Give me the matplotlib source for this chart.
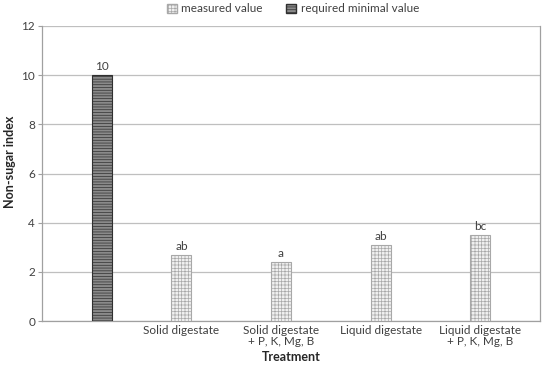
import numpy as np
import matplotlib.pyplot as plt
from matplotlib.patches import Patch

plt.rcParams['font.family'] = ['Lato', 'DejaVu Sans']
plt.rcParams['hatch.linewidth'] = 0.5

# categories (first one holds only the required minimal value)
categories = ["", "Solid digestate", "Solid digestate\n+ P, K, Mg, B",
              "Liquid digestate", "Liquid digestate\n+ P, K, Mg, B"]
measured = [np.nan, 2.7, 2.4, 3.1, 3.5]
measured_labels = ["", "ab", "a", "ab", "bc"]
required = [10, np.nan, np.nan, np.nan, np.nan]
required_labels = ["10", "", "", "", ""]
yticks = [0, 2, 4, 6, 8, 10, 12]

fig = plt.figure(figsize=(5.5, 3.69), dpi=100)
ax = fig.add_axes([42 / 550, 1 - 321 / 369, 498 / 550, 295 / 369])

centers = np.arange(len(categories)) + 0.5
w = 0.2
grey = '#404040'
fs = 8.5

ax.bar(centers - w / 2, measured, w, color='#f0f0f0', edgecolor='#a8a8a8',
       hatch='+++++', linewidth=0.8, zorder=3)
ax.bar(centers + w / 2, required, w, color='#8a8a8a', edgecolor='#303030',
       hatch='------', linewidth=0.8, zorder=3)

for x, v, t in zip(centers - w / 2, measured, measured_labels):
    if t:
        ax.text(x, v + 0.12, t, ha='center', va='bottom', fontsize=fs, color=grey)
for x, v, t in zip(centers + w / 2, required, required_labels):
    if t:
        ax.text(x, v + 0.12, t, ha='center', va='bottom', fontsize=fs, color=grey)

ax.set_xlim(0, len(categories))
ax.set_ylim(0, 12)
ax.set_yticks(yticks)
ax.set_xticks(centers[1:] - w / 2)
ax.set_xticklabels(categories[1:], fontsize=fs, color=grey, linespacing=0.95)
ax.tick_params(axis='x', length=0, pad=3)
ax.tick_params(axis='y', length=3, color='#a0a0a0', labelsize=fs, labelcolor=grey, pad=2)
ax.yaxis.grid(True, color='#bfbfbf', linewidth=0.9, zorder=0)
for s in ax.spines.values():
    s.set_color('#a0a0a0')
    s.set_linewidth(0.9)
ax.spines['top'].set_visible(False)

ax.set_ylabel("Non-sugar index", fontsize=9, fontweight='bold', color='#262626')
ax.yaxis.set_label_coords(-26 / 498, 0.54)
ax.set_xlabel("Treatment", fontsize=9, fontweight='bold', color='#262626', labelpad=3)

handles = [Patch(facecolor='#f0f0f0', edgecolor='#a8a8a8', hatch='+++++', label='measured value'),
           Patch(facecolor='#8a8a8a', edgecolor='#303030', hatch='------', label='required minimal value')]
fig.legend(handles=handles, loc='center', bbox_to_anchor=(293 / 550, 1 - 9 / 369), ncol=2,
           frameon=False, fontsize=fs, handlelength=0.8, handleheight=0.8,
           handletextpad=0.4, columnspacing=2.0, labelcolor=grey)

fig.savefig('out.png', dpi=100)
